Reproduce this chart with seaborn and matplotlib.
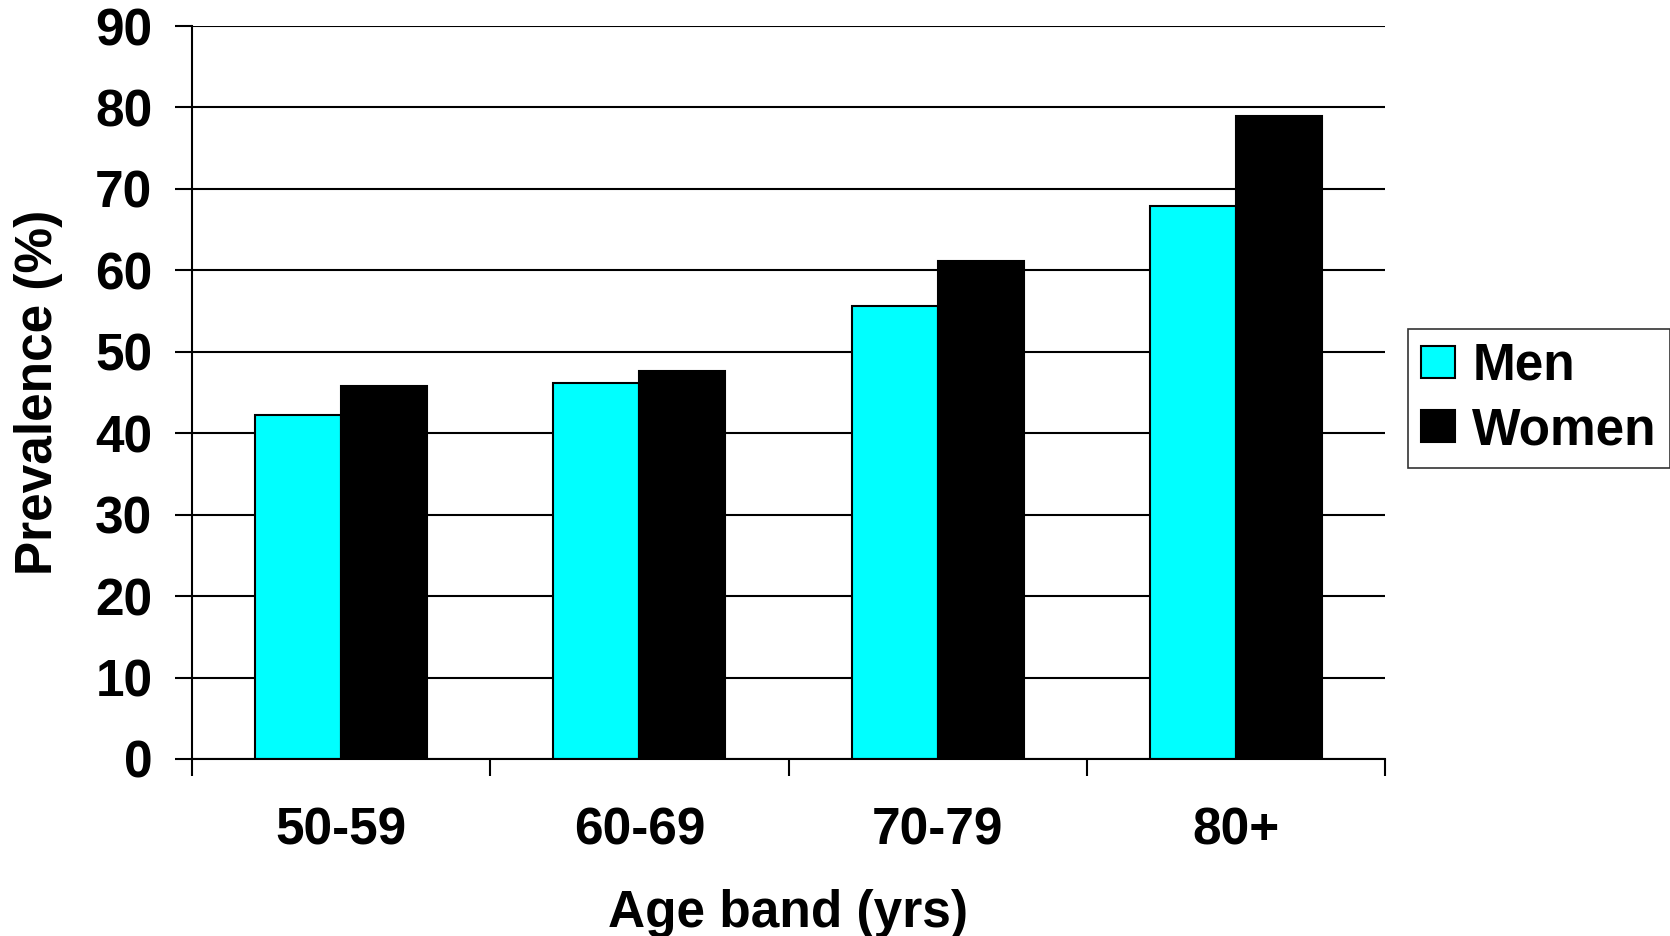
"""Bar chart of prevalence by age band for men and women."""

import matplotlib as mpl
import matplotlib.pyplot as plt
import matplotlib.ticker as mticker
import numpy as np
import pandas as pd
import seaborn as sns


# data
age_bands = ['50-59', '60-69', '70-79', '80+']
men = [42.2, 46.2, 55.6, 67.9]
women = [45.8, 47.6, 61.1, 79.0]
sexes = ['Men', 'Women']
y_ticks = [0, 10, 20, 30, 40, 50, 60, 70, 80, 90]

data_frame = pd.DataFrame({
    'Age band': age_bands * 2,
    'Sex': [sexes[0]] * len(age_bands) + [sexes[1]] * len(age_bands),
    'Prevalence': men + women,
})

FS = 37

# matplot/ seaborn style setting
sns.set_style('white')
plt.rcParams['font.family'] = ['Liberation Sans', 'DejaVu Sans']
plt.rcParams['font.weight'] = 'bold'
plt.rcParams['axes.labelweight'] = 'bold'
plt.rcParams['text.color'] = 'black'
plt.rcParams['axes.labelcolor'] = 'black'
plt.rcParams['xtick.color'] = 'black'
plt.rcParams['ytick.color'] = 'black'
mpl.rcParams['patch.force_edgecolor'] = True

fig = plt.figure(figsize=(16.7, 9.36), dpi=100)
ax = fig.add_axes([192 / 1670, 1 - 759 / 936, (1385 - 192) / 1670, (759 - 26) / 936])

# seaborn barplot, men in cyan and women in black
sns.barplot(data=data_frame, x='Age band', y='Prevalence', hue='Sex',
            palette=['#00FFFF', '#000000'], saturation=1, width=0.577,
            edgecolor='black', linewidth=1.5, ax=ax, legend=True)

# y axis with black horizontal grid lines
ax.set_ylim(0, 90)
ax.set_yticks(y_ticks)
ax.yaxis.grid(True, color='black', linewidth=1.5)
ax.set_axisbelow(True)
ax.tick_params(axis='y', direction='out', length=12.5, width=1.5,
               color='black', labelsize=FS, pad=16, left=True)

# x ticks sit between the groups, labels in the middle of each group
ax.set_xlim(-0.5, len(age_bands) - 0.5)
ax.xaxis.set_major_locator(mticker.FixedLocator(np.arange(len(age_bands) + 1) - 0.5))
ax.xaxis.set_major_formatter(mticker.NullFormatter())
ax.xaxis.set_minor_locator(mticker.FixedLocator(np.arange(len(age_bands))))
ax.xaxis.set_minor_formatter(mticker.FixedFormatter(age_bands))
ax.tick_params(axis='x', which='major', direction='out', length=12.5, width=1.5,
               color='black', bottom=True)
ax.tick_params(axis='x', which='minor', length=0, labelsize=FS, pad=34)

for side in ['top', 'right']:
    ax.spines[side].set_visible(False)
for side in ['left', 'bottom']:
    ax.spines[side].set_color('black')
    ax.spines[side].set_linewidth(1.5)

ax.set_xlabel('Age band (yrs)', fontsize=FS, fontweight='bold', labelpad=24)
ax.set_ylabel('Prevalence (%)', fontsize=FS, fontweight='bold', labelpad=23)

# legend outside the plot on the right
handles, labels = ax.get_legend_handles_labels()
ax.get_legend().remove()
leg = fig.legend(handles, labels, loc='upper left',
                 bbox_to_anchor=(1408 / 1670, 1 - 329 / 936),
                 bbox_transform=fig.transFigure, borderaxespad=0,
                 fontsize=FS, frameon=True, fancybox=False,
                 handlelength=0.67, handleheight=0.57, handletextpad=0.33,
                 borderpad=0.25, labelspacing=0.3)
leg.get_frame().set_edgecolor('black')
leg.get_frame().set_linewidth(1.2)
for text in leg.get_texts():
    text.set_fontweight('bold')

fig.savefig('out.png', dpi=100)
plt.close()
